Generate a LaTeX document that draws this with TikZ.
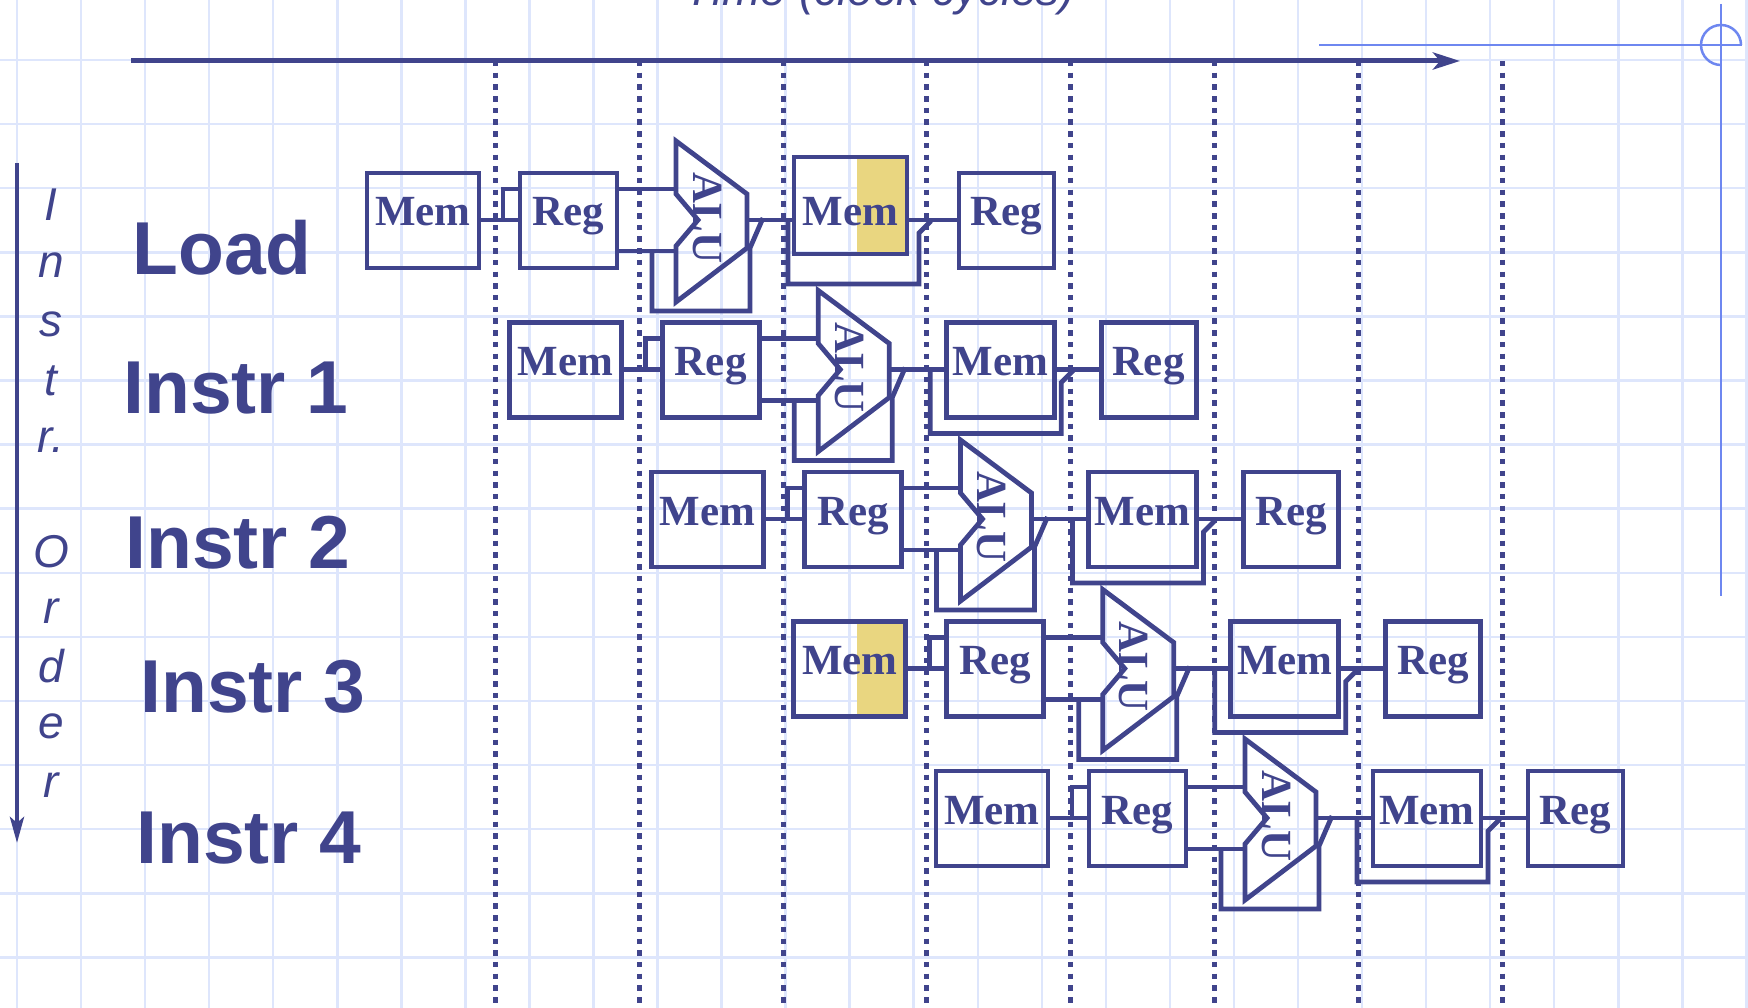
\documentclass[tikz,border=0pt]{standalone}
\usepackage{fontspec}
\setmainfont{Liberation Serif}
\newfontfamily\arialfont{Liberation Sans}
\usetikzlibrary{arrows.meta,calc}
\definecolor{pipeblue}{RGB}{64,68,140}
\definecolor{gridblue}{RGB}{222,230,252}
\definecolor{hiyellow}{RGB}{233,214,128}
\definecolor{guideblue}{RGB}{110,135,240}

\tikzset{
  wire/.style={draw=pipeblue, line width=4.8pt, line join=miter},
  unitbox/.style={draw=pipeblue, line width=4.8pt, inner sep=0pt, outer sep=0pt,
    text=pipeblue, font=\fontsize{43}{43}\selectfont\bfseries,
    text height=53pt, text depth=42pt, anchor=north west},
  alutext/.style={text=pipeblue, font=\fontsize{43}{43}\selectfont\bfseries, rotate=-90, inner sep=0pt},
  rowlabel/.style={text=pipeblue, font=\arialfont\fontsize{75}{75}\selectfont\bfseries, anchor=base, inner sep=0pt},
  axislabel/.style={text=pipeblue, font=\arialfont\fontsize{46}{46}\selectfont\itshape, anchor=base, inner sep=0pt},
  divider/.style={draw=pipeblue, line width=5pt, dash pattern=on 5.5pt off 6.2pt},
  gridline/.style={draw=gridblue, line width=2.5pt},
}

% #1 prefix, #2 dx, #3 dy, #4 IM highlighted, #5 Load-style data memory
\newcommand{\piperow}[5]{%
\begin{scope}[shift={(#2,#3)}]
  \ifnum#4=1\relax \fill[hiyellow] (430,173) rectangle (479,268); \fi
  \node[unitbox, minimum width=112pt] (#1im) at (367,173) {Mem};
  \node[unitbox, minimum width=97pt] (#1rg) at (520,173) {Reg};
  \coordinate (#1br) at (503,220);
  \coordinate (#1bt) at (503,189);
  \draw[wire] (#1im.east |- #1br) -- (#1rg.west |- #1br);
  \draw[wire] (#1br) -- (#1bt) -- (#1rg.west |- #1bt);
  % ALU
  \coordinate (#1a1) at (676,141);
  \coordinate (#1a2) at (747,194);
  \coordinate (#1a3) at (747,248);
  \coordinate (#1a4) at (676,302);
  \coordinate (#1a5) at (676,246);
  \coordinate (#1a6) at (698,220);
  \coordinate (#1a7) at (676,194);
  \draw[wire] (#1a1) -- (#1a2) -- (#1a3) -- (#1a4) -- (#1a5) -- (#1a6) -- (#1a7) -- cycle;
  \node[alutext] (#1alu) at (707,218) {ALU};
  \coordinate (#1ai) at (676,189);
  \coordinate (#1aj) at (676,251);
  \draw[wire] (#1rg.east |- #1ai) -- (#1ai);
  \draw[wire] (#1rg.east |- #1aj) -- (#1aj);
  % ALU bypass
  \coordinate (#1f1) at (652,251);
  \coordinate (#1f2) at (652,311);
  \coordinate (#1f3) at (750,311);
  \coordinate (#1f4) at (750,248);
  \coordinate (#1f5) at (763,218);
  \draw[wire] (#1f1) -- (#1f2) -- (#1f3) -- (#1f4) -- (#1f5);
  % data memory
  \ifnum#5=1\relax
    \fill[hiyellow] (857,157) rectangle (907,254);
    \node[unitbox, minimum width=113pt, text height=69pt, text depth=28pt] (#1dm) at (794,157) {Mem};
  \else
    \node[unitbox, minimum width=108pt] (#1dm) at (804,173) {Mem};
  \fi
  \coordinate (#1ao) at (747,220);
  \draw[wire] (#1ao) -- (#1dm.west |- #1ao);
  \coordinate (#1g1) at (788,220);
  \coordinate (#1g2) at (788,284);
  \coordinate (#1g3) at (919,284);
  \coordinate (#1g4) at (919,233);
  \coordinate (#1g5) at (931,221);
  \draw[wire] (#1g1) -- (#1g2) -- (#1g3) -- (#1g4) -- (#1g5);
  \node[unitbox, minimum width=95pt] (#1wb) at (959,173) {Reg};
  \draw[wire] (#1dm.east |- #1ao) -- (#1wb.west |- #1ao);
\end{scope}}

\begin{document}
\begin{tikzpicture}[x=1pt,y=-1pt]
\useasboundingbox (0,0) rectangle (1748,1008);
\clip (0,0) rectangle (1748,1008);
\fill[white] (0,0) rectangle (1748,1008);
% background grid
\foreach \k in {0,...,27} \draw[gridline] ({17+64.05*\k},0) -- ({17+64.05*\k},1008);
\foreach \k in {0,...,15} \draw[gridline] (0,{60+64.1*\k}) -- (1748,{60+64.1*\k});
% clock-cycle dividers
\foreach \x in {495,639,783,926,1070,1214,1358,1502} \draw[divider] (\x,61) -- (\x,1008);
% guide crosshair
\coordinate (gh1) at (1319,45);
\coordinate (gh2) at (1742,45);
\coordinate (gv1) at (1721,4);
\coordinate (gv2) at (1721,596);
\draw[guideblue, line width=2.5pt] (gh1) -- (gh2);
\draw[guideblue, line width=2.5pt] (gv1) -- (gv2);
\draw[guideblue, line width=2.5pt] (1721,65) arc[start angle=90, end angle=360, radius=20];
% time axis
\coordinate (tstart) at (131,61);
\coordinate (tend) at (1460,61);
\draw[draw=pipeblue, line width=5pt, -{Stealth[length=27pt,width=17pt,inset=7pt]}] (tstart) -- (tend);
\node[axislabel] (tlabel) at (880,6) {Time (clock cycles)};
% instruction order axis
\coordinate (ostart) at (17,163);
\coordinate (oend) at (17,843);
\draw[draw=pipeblue, line width=4.5pt, -{Stealth[length=26pt,width=14pt,inset=6pt]}] (ostart) -- (oend);
\node[axislabel] (oI) at (51,221) {I};
\node[axislabel] (on) at (51,278) {n};
\node[axislabel] (os) at (51,337) {s};
\node[axislabel] (ot) at (51,395) {t};
\node[axislabel] (or) at (51,452) {r.};
\node[axislabel] (oO) at (51,567) {O};
\node[axislabel] (or2) at (51,623) {r};
\node[axislabel] (od) at (51,682) {d};
\node[axislabel] (oe) at (51,738) {e};
\node[axislabel] (or3) at (51,797) {r};
% row labels
\node[rowlabel] (lload) at (222,275) {Load};
\node[rowlabel] (li1) at (236,413) {Instr 1};
\node[rowlabel] (li2) at (238,568) {Instr 2};
\node[rowlabel] (li3) at (253,712) {Instr 3};
\node[rowlabel] (li4) at (249,863) {Instr 4};
% pipelines
\piperow{p}{0}{0}{0}{1}
\piperow{q}{142.25}{149.5}{0}{0}
\piperow{r}{284.5}{299}{0}{0}
\piperow{s}{426.75}{448.5}{1}{0}
\piperow{t}{569}{598}{0}{0}
\end{tikzpicture}
\end{document}
